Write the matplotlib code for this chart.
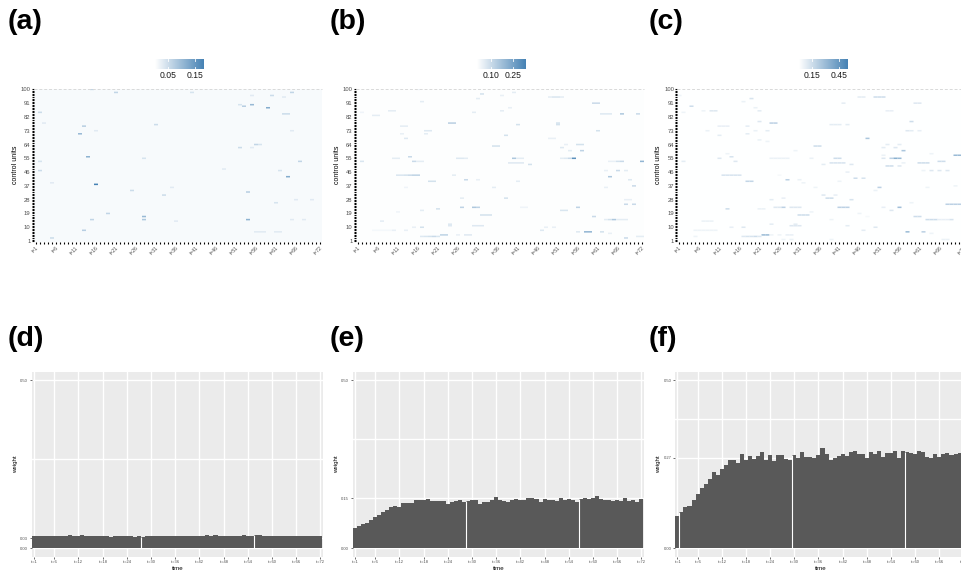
import numpy as np
import matplotlib
matplotlib.use('Agg')
import matplotlib.pyplot as plt
from matplotlib.colors import LinearSegmentedColormap

plt.rcParams['font.family'] = ['Liberation Sans', 'DejaVu Sans']

W, H = 962, 574

# highlighted cells of the weight matrices: (time, unit, weight)
cells_a = [(15,100,.06),(21,98,.06),(40,98,.04),(65,98,.06),(60,96,.05),(63,95,.03),(55,96,.03),(53,89,.07),(52,90,.04),
           (55,90,.1),(59,88,.12),(2,85,.05),(63,84,.05),(64,84,.05),(3,78,.03),(31,77,.05),(13,76,.07),(12,71,.1),
           (16,73,.03),(65,73,.03),(52,62,.05),(56,64,.06),(57,64,.04),(55,62,.03),(14,56,.11),(28,55,.04),(2,53,.04),
           (67,53,.06),(2,47,.05),(48,48,.03),(62,47,.04),(64,43,.12),(16,38,.2),(5,39,.03),(25,34,.05),(54,33,.07),
           (33,31,.05),(35,36,.03),(61,26,.04),(19,19,.06),(28,17,.1),(15,15,.06),(28,15,.08),(54,15,.11),(65,15,.03),
           (68,15,.03),(13,8,.07),(5,3,.05),(56,7,.03),(57,7,.03),(58,7,.03),(61,7,.03),(62,7,.03),(36,14,.03),
           (70,28,.03),(66,28,.03)]
cells_b = [(16,100,.03),(40,98,.05),(32,97,.08),(31,94,.05),(37,96,.04),(17,92,.05),(49,95,.05),(50,95,.07),(51,95,.07),
           (52,95,.05),(60,91,.1),(61,91,.1),(39,88,.04),(37,86,.05),(9,86,.05),(10,86,.05),(2,85,.03),(5,83,.05),(6,83,.05),
           (30,85,.05),(62,84,.06),(63,84,.06),(64,84,.06),(67,84,.15),(71,84,.1),(24,78,.13),(25,78,.13),(41,77,.08),
           (51,77,.08),(51,78,.08),(12,76,.05),(13,76,.05),(18,73,.06),(19,73,.06),(18,71,.05),(61,73,.08),(38,70,.08),
           (13,68,.06),(12,71,.04),(35,63,.08),(36,63,.08),(49,68,.04),(50,68,.04),(56,64,.08),(57,64,.08),(53,64,.04),
           (52,62,.06),(54,60,.05),(57,60,.12),(14,56,.1),(40,55,.15),(41,55,.05),(42,55,.05),(26,55,.06),(27,55,.06),
           (28,55,.05),(55,55,.3),(54,55,.1),(53,55,.06),(52,55,.05),(10,55,.05),(11,55,.05),(15,53,.1),(16,53,.05),
           (17,53,.05),(2,53,.07),(39,52,.06),(40,52,.06),(41,52,.06),(42,52,.06),(44,51,.08),(66,53,.08),(67,53,.1),
           (72,53,.2),(64,53,.04),(65,53,.04),(66,47,.1),(68,47,.05),(63,47,.04),(64,43,.15),(11,44,.07),(12,44,.07),
           (13,44,.08),(14,44,.1),(15,44,.12),(16,44,.12),(25,44,.05),(28,41,.1),(31,41,.04),(19,40,.08),(20,40,.08),
           (41,40,.05),(69,41,.06),(70,37,.1),(35,36,.05),(13,36,.03),(63,36,.04),(38,29,.08),(27,29,.05),(68,28,.04),
           (69,28,.04),(68,25,.1),(70,25,.1),(27,23,.12),(30,23,.15),(31,23,.12),(21,22,.08),(56,23,.12),(42,23,.03),
           (43,23,.03),(52,21,.07),(53,21,.07),(11,20,.03),(17,21,.05),(32,18,.08),(33,18,.08),(34,18,.08),(60,17,.1),
           (65,15,.15),(64,15,.08),(63,15,.05),(66,15,.05),(67,15,.05),(68,15,.05),(7,14,.05),(24,12,.06),(24,11,.06),
           (30,11,.06),(31,11,.06),(32,11,.06),(17,10,.08),(15,10,.04),(13,8,.04),(47,8,.06),(50,10,.04),(48,10,.04),
           (56,7,.06),(58,7,.2),(59,7,.2),(62,7,.08),(64,6,.04),(22,5,.12),(23,5,.12),(26,5,.04),(28,5,.06),(29,5,.06),
           (68,3,.1),(71,4,.05),(72,4,.05),(17,4,.06),(18,4,.07),(19,4,.08),(20,4,.1),(21,4,.07),(5,8,.02),(6,8,.02),
           (7,8,.02),(8,8,.02),(9,8,.02),(10,8,.04)]
cells_c = [(1,96,.05),(4,89,.15),(17,92,.06),(19,94,.12),(20,88,.06),(21,86,.08),(7,86,.05),(9,86,.1),(10,86,.1),(2,85,.05),
           (42,91,.08),(46,95,.08),(47,95,.08),(50,95,.15),(51,95,.15),(52,95,.15),(53,86,.07),(54,86,.07),(60,91,.1),(61,91,.1),
           (21,79,.1),(24,78,.2),(25,78,.2),(59,79,.15),(39,77,.08),(40,77,.08),(41,77,.08),(43,77,.08),(11,76,.07),(12,76,.07),
           (13,76,.07),(18,76,.08),(18,71,.08),(20,73,.06),(23,73,.08),(8,73,.06),(11,70,.08),(58,73,.1),(59,73,.08),(61,73,.07),
           (48,68,.25),(21,67,.06),(23,66,.05),(35,63,.15),(36,63,.15),(52,62,.08),(53,64,.08),(55,62,.1),(56,64,.08),(30,60,.05),
           (57,60,.25),(13,58,.05),(14,56,.12),(70,57,.3),(71,57,.3),(64,58,.05),(40,55,.15),(41,55,.15),(54,55,.2),(55,55,.35),
           (56,55,.3),(52,57,.06),(52,55,.1),(24,55,.06),(25,55,.06),(26,55,.06),(27,55,.06),(28,55,.06),(11,55,.1),(34,55,.06),
           (15,53,.1),(2,53,.08),(37,51,.08),(39,52,.12),(40,52,.12),(41,52,.12),(42,52,.12),(44,51,.1),(66,53,.15),(67,53,.15),
           (61,52,.15),(62,52,.15),(63,52,.15),(57,52,.06),(53,50,.15),(54,50,.15),(56,50,.1),(62,47,.05),(64,47,.1),(66,47,.1),
           (68,47,.1),(43,46,.07),(12,44,.12),(13,44,.12),(14,44,.12),(15,44,.12),(16,44,.12),(26,44,.03),(45,42,.15),(47,42,.12),
           (28,41,.2),(31,41,.06),(32,39,.05),(18,40,.18),(19,40,.18),(41,40,.05),(70,37,.05),(35,36,.05),(51,36,.2),(50,34,.06),
           (63,36,.05),(37,31,.1),(40,31,.07),(38,29,.15),(39,29,.15),(44,28,.12),(24,28,.08),(27,29,.07),(59,26,.05),(68,25,.2),
           (69,25,.2),(70,25,.2),(71,25,.2),(25,23,.1),(26,23,.1),(27,23,.2),(29,23,.1),(30,23,.1),(31,23,.1),(13,22,.15),
           (21,22,.06),(22,22,.06),(41,23,.2),(42,23,.2),(43,23,.2),(52,23,.07),(54,21,.1),(56,23,.28),(34,20,.05),(31,18,.15),
           (32,18,.15),(33,18,.15),(46,19,.05),(48,17,.03),(60,17,.15),(61,17,.15),(63,15,.15),(64,15,.15),(65,15,.15),(66,15,.07),
           (67,15,.07),(68,15,.07),(69,15,.12),(7,14,.06),(8,14,.06),(9,14,.06),(39,15,.05),(24,12,.08),(30,12,.08),(29,11,.1),
           (30,11,.1),(31,11,.1),(14,10,.07),(17,10,.1),(43,11,.08),(50,10,.1),(47,8,.08),(5,8,.05),(6,8,.05),(7,8,.05),(8,8,.05),
           (9,8,.05),(10,8,.05),(58,7,.3),(62,7,.2),(64,6,.05),(22,5,.3),(23,5,.3),(24,5,.05),(26,5,.05),(28,5,.07),(29,5,.07),
           (17,4,.1),(18,4,.12),(19,4,.12),(20,4,.15),(21,4,.1),(27,2,.05),(29,2,.06),(39,2,.05),(67,2,.06),(68,2,.06),(5,4,.05)]

# mean weight by period
weight_d = [.0375,.0375,.036,.0375,.0375,.0375,.0375,.036,.0375,.039,.036,.0375,.039,.036,.036,.0375,.0375,.036,.036,.034,
            .0375,.0375,.036,.036,.036,.034,.0365,.0345,.0375,.0375,.0375,.036,.036,.0375,.036,.0375,.0375,.036,.036,.0375,
            .036,.0375,.036,.039,.0385,.039,.0375,.036,.0375,.036,.0375,.0375,.039,.036,.0375,.039,.039,.0375,.0385,.0375,
            .0375,.036,.036,.0375,.036,.0375,.036,.036,.036,.0375,.036,.036]
weight_e = [.061,.067,.073,.076,.084,.094,.100,.109,.115,.124,.127,.124,.136,.134,.136,.145,.143,.145,.148,.140,.140,.142,
            .142,.133,.139,.142,.145,.139,.142,.145,.145,.133,.139,.139,.145,.153,.145,.142,.139,.145,.148,.145,.145,.150,
            .150,.148,.139,.148,.145,.145,.142,.150,.145,.148,.145,.139,.148,.150,.148,.150,.156,.148,.145,.145,.142,.145,
            .142,.150,.142,.145,.139,.148]
weight_f = [.097,.109,.124,.127,.145,.162,.180,.192,.207,.228,.219,.237,.248,.263,.263,.254,.281,.263,.275,.266,.275,.287,
            .263,.278,.260,.278,.278,.266,.263,.278,.269,.287,.272,.272,.269,.278,.299,.281,.263,.269,.275,.281,.275,.287,
            .290,.281,.281,.269,.287,.281,.290,.272,.284,.284,.290,.269,.290,.287,.284,.281,.290,.287,.272,.269,.281,.272,
            .281,.284,.278,.281,.284,.284]

heat_labels = ['(a)', '(b)', '(c)']
bar_labels = ['(d)', '(e)', '(f)']
heat_base = [.008, .005, .004]
scale_max = [.18, .34, .55]
scale_ticks = [[.05, .15], [.10, .25], [.15, .45]]
y_ticks_bar = [[0, .03, .5], [0, .15, .5], [0, .27, .5]]
gaps = [[27.5, 55.5], [28.5, 56.5], [1.5, 29.5, 57.5]]

heat_left = [34, 356, 677.5]
bar_left = [31.7, 352.7, 675]
bar_width = 291
legend_left = [155, 477, 799]
tag_x = [8, 330, 649]

blues = LinearSegmentedColormap.from_list('wb', ['#FFFFFF', '#4682B4'])


def px_axes(fig, x0, y0, x1, y1):
    # pixel box from the top left corner, may run off the right edge
    return fig.add_axes([x0 / W, 1 - y1 / H, (x1 - x0) / W, (y1 - y0) / H])


def draw_heat(fig, i, cells):
    ax = px_axes(fig, heat_left[i], 88.6, heat_left[i] + 288, 241.8)
    ax.set_facecolor(blues(heat_base[i] / scale_max[i]))
    # rows are ~1.5 px tall, so no snapping or some of them vanish
    for t, u, v in cells:
        r = ax.bar(t, 1, bottom=u - 0.5, width=1, color=blues(v / scale_max[i]), linewidth=0)
        r[0].set_snap(False)
    ax.set_xlim(0.5, 72.5)
    ax.set_ylim(0.5, 100.5)
    for s in ax.spines.values():
        s.set_visible(False)
    ax.axhline(100.5, color='#D9D9D9', lw=0.7, ls=(0, (3, 2)), clip_on=False)

    xt = list(range(1, 73))
    xshown = [1, 6, 11, 16, 21, 26, 31, 36, 41, 46, 51, 56, 61, 66, 72]
    ax.set_xticks(xt, [f't={t}' if t in xshown else '' for t in xt], rotation=45, ha='right',
                  rotation_mode='anchor', fontsize=3.6, color='#4D4D4D')
    yt = list(range(1, 101))
    yshown = list(range(1, 101, 9))
    ax.set_yticks(yt, [str(u) if u in yshown else '' for u in yt], fontsize=4.2, color='#4D4D4D')
    ax.tick_params(axis='both', length=1.5, width=0.8, color='black', pad=1)
    ax.set_ylabel('control units', fontsize=5, color='black', labelpad=1.5)

    # colour legend
    lg = px_axes(fig, legend_left[i], 59, legend_left[i] + 48.5, 69)
    lg.imshow(np.linspace(0, scale_max[i], 200)[None, :], cmap=blues, vmin=0, vmax=scale_max[i], aspect='auto',
              extent=(0, scale_max[i], 0, 1))
    for s in lg.spines.values():
        s.set_visible(False)
    lg.set_yticks([])
    lg.set_xticks(scale_ticks[i], [f'{v:.2f}' for v in scale_ticks[i]], fontsize=6.2, color='#1A1A1A')
    lg.tick_params(axis='x', length=0, pad=1.5)
    for v in scale_ticks[i]:
        lg.plot([v, v], [0, .2], color='white', lw=0.6)
        lg.plot([v, v], [.8, 1], color='white', lw=0.6)
    lg.set_xlim(0, scale_max[i])
    lg.set_ylim(0, 1)


def draw_bars(fig, i, weights):
    ax = px_axes(fig, bar_left[i], 371.7, bar_left[i] + bar_width, 556.9)
    ax.set_facecolor('#EBEBEB')
    for s in ax.spines.values():
        s.set_visible(False)
    times = np.arange(1, 73)
    ax.bar(times, weights, width=1.0, color='#595959', linewidth=0, zorder=3)
    # thin seams between some bars, as in the original
    for g in gaps[i]:
        ax.plot([g, g], [0, weights[int(g)]], color='white', lw=0.8, zorder=4, solid_capstyle='butt')
    ax.set_xlim(0.4, 72.6)
    ax.set_ylim(-.025, .5255)

    xt = [1, 6, 12, 18, 24, 30, 36, 42, 48, 54, 60, 66, 72]
    ax.set_xticks(xt, [f't={t}' for t in xt], fontsize=2.9, color='#4D4D4D')
    yt = y_ticks_bar[i]
    ax.set_yticks(yt, [f'{v:.2f}' for v in yt], fontsize=3, color='#4D4D4D')
    ax.set_yticks([(yt[1] + .5) / 2], minor=True)
    ax.tick_params(axis='both', which='major', length=1.5, width=0.5, color='#333333', pad=1)
    ax.tick_params(axis='y', which='minor', length=0)
    ax.grid(True, which='both', color='white', lw=1.0, zorder=1)
    ax.set_axisbelow(True)
    ax.set_xlabel('time', fontsize=4.4, labelpad=1)
    ax.set_ylabel('weight', fontsize=4.4, labelpad=2)


fig = plt.figure(figsize=(W / 100, H / 100), dpi=100)

for i, cells in enumerate([cells_a, cells_b, cells_c]):
    draw_heat(fig, i, cells)
    fig.text(tag_x[i] / W, 1 - 22 / H, heat_labels[i], fontsize=20.5, fontweight='bold', va='center', ha='left')

for i, weights in enumerate([weight_d, weight_e, weight_f]):
    draw_bars(fig, i, weights)
    fig.text(tag_x[i] / W, 1 - 339 / H, bar_labels[i], fontsize=20.5, fontweight='bold', va='center', ha='left')

fig.savefig('out.png', dpi=100)
